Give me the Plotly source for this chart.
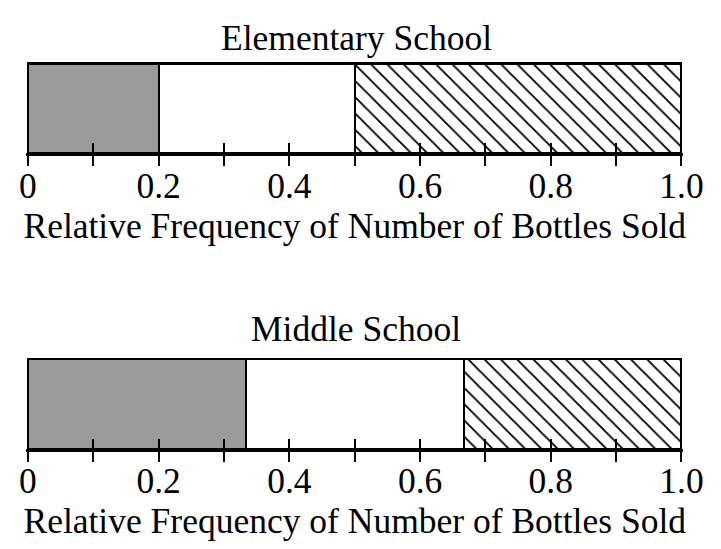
import plotly.graph_objects as go

# chart data
schools = ["Elementary School", "Middle School"]
gray_part = [0.2, 0.333]
white_part = [0.3, 0.335]
hatched_part = [0.5, 0.332]
tick_vals = [0, 0.1, 0.2, 0.3, 0.4, 0.5, 0.6, 0.7, 0.8, 0.9, 1.0]
tick_text = ["0", "", "0.2", "", "0.4", "", "0.6", "", "0.8", "", "1.0"]
axis_title = "Relative Frequency of Number of Bottles Sold"

FONT = "Liberation Serif, Times New Roman, serif"
FSIZE = 35.5
LINE = dict(color="black", width=2.5)

# the page puts the figure 8px in from the corner
x_dom = [0.0250, 0.9368]
y_doms = [[0.7350, 0.9038], [0.1967, 0.3656]]
title_y = [0.9454, 0.4150]

fig = go.Figure()

for i, school in enumerate(schools):
    xa = "x" if i == 0 else "x2"
    ya = "y" if i == 0 else "y2"
    fig.add_bar(x=[gray_part[i]], y=[school], orientation="h", width=1,
                marker=dict(color="#9b9b9b", line=LINE),
                xaxis=xa, yaxis=ya, showlegend=False)
    fig.add_bar(x=[white_part[i]], y=[school], orientation="h", width=1,
                marker=dict(color="white", line=LINE),
                xaxis=xa, yaxis=ya, showlegend=False)
    fig.add_bar(x=[hatched_part[i]], y=[school], orientation="h", width=1,
                marker=dict(color="white", line=LINE,
                            pattern=dict(shape="\\", fgcolor="black", bgcolor="white",
                                         fgopacity=1, size=11.5, solidity=0.16)),
                xaxis=xa, yaxis=ya, showlegend=False)

    fig.add_annotation(text=school, x=0.4827, y=title_y[i], xref="paper", yref="paper",
                       xanchor="center", yanchor="middle", showarrow=False,
                       font=dict(family=FONT, size=FSIZE, color="black"))

    n = "" if i == 0 else "2"
    # labelled axis, its ticks come from the two overlay axes below
    fig.layout["xaxis" + n] = dict(
        domain=x_dom, anchor=ya, range=[-0.003, 1.003],
        tickmode="array", tickvals=tick_vals, ticktext=tick_text,
        ticks="", ticklabelstandoff=-1,
        showline=True, linecolor="black", linewidth=2.5,
        showgrid=False, zeroline=False, automargin=False,
        tickfont=dict(family=FONT, size=FSIZE, color="black"),
        title=dict(text=axis_title, standoff=0,
                   font=dict(family=FONT, size=FSIZE, color="black")))
    fig.layout["yaxis" + n] = dict(
        domain=y_doms[i], anchor=xa, range=[-0.5, 0.53],
        showticklabels=False, ticks="", showgrid=False,
        zeroline=False, showline=False, automargin=False)

    # ticks crossing the axis line: one axis for the inner half, one for the outer
    for k, side, tlen in [(3 + i, "inside", 10), (5 + i, "outside", 12)]:
        fig.layout["xaxis" + str(k)] = dict(
            domain=x_dom, anchor=ya, overlaying=xa, range=[-0.003, 1.003],
            tickmode="array", tickvals=tick_vals, ticks=side, ticklen=tlen,
            tickwidth=1.8, tickcolor="black", showticklabels=False,
            showgrid=False, zeroline=False, showline=False)
        # empty trace so the overlay subplot gets drawn
        fig.add_scatter(x=[0.5], y=[school], mode="none", hoverinfo="skip",
                        xaxis="x" + str(k), yaxis=ya, showlegend=False)

fig.update_layout(
    barmode="stack",
    width=721, height=549,
    margin=dict(l=0, r=0, t=0, b=0),
    paper_bgcolor="white", plot_bgcolor="white",
    bargap=0,
)

fig.write_html("out.html")
